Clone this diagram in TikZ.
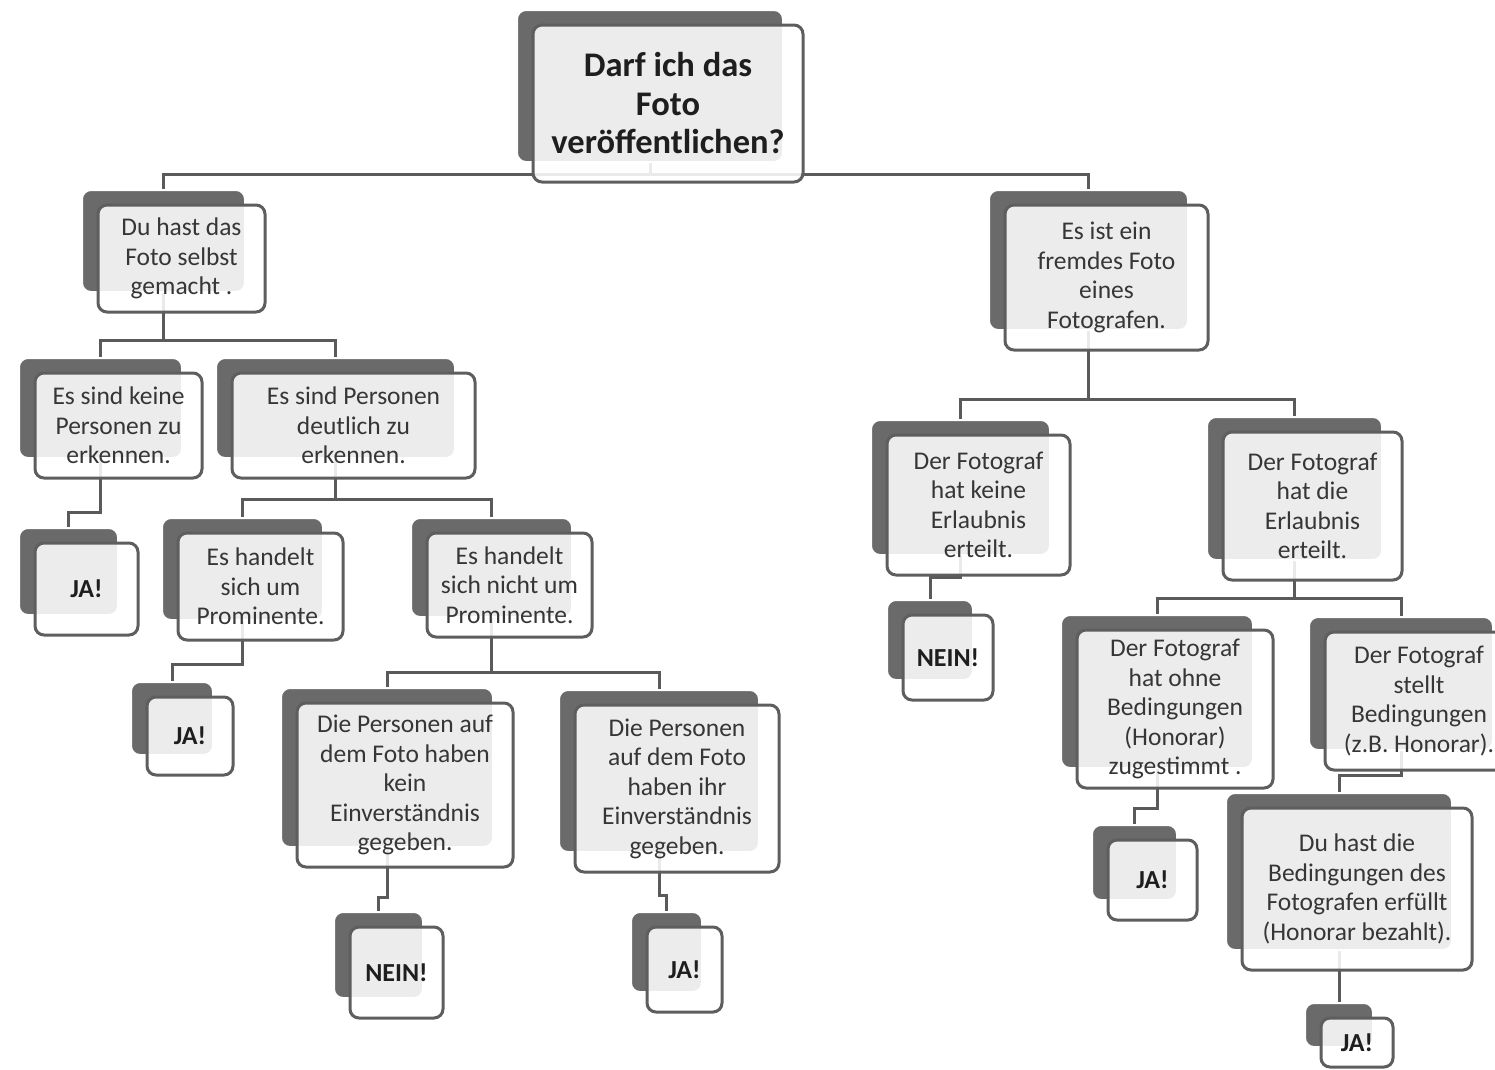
\documentclass[tikz,border=0pt]{standalone}
\usepackage{fontspec}
\setmainfont{Carlito}
\usetikzlibrary{backgrounds}
\definecolor{backgray}{HTML}{6A6A6B}
\definecolor{edgegray}{HTML}{5E5E5E}
\definecolor{linegray}{HTML}{5A5A5A}
\definecolor{txtgray}{HTML}{363636}
\definecolor{boldtxt}{HTML}{1E1E1E}
\tikzset{
  backbox/.style={rectangle, rounded corners=9pt, fill=backgray, draw=white, line width=2pt, inner sep=0pt},
  frontbox/.style={rectangle, rounded corners=9pt, fill=white, fill opacity=0.88, text opacity=1,
    draw=edgegray, draw opacity=1, line width=3pt, inner sep=0pt, align=center, text=txtgray,
    font=\fontsize{25.5}{29.5}\selectfont},
  titlebox/.style={frontbox, text=boldtxt, font=\bfseries\fontsize{34.5}{38.5}\selectfont},
  answerbox/.style={frontbox, text=boldtxt, font=\bfseries\fontsize{26}{30}\selectfont},
  conn/.style={draw=linegray, line width=3pt},
}
% #1 style of front box, #2 name, #3..#6 front rectangle x1,y1,x2,y2, #7 text
\newcommand\card[7][frontbox]{%
  \pgfmathsetmacro\cardW{#5-#3}\pgfmathsetmacro\cardH{#6-#4}%
  \pgfmathsetmacro\cardBW{#5-#3-4}\pgfmathsetmacro\cardBH{#6-#4-5}%
  \pgfmathsetmacro\cardX{(#3+#5)/2}\pgfmathsetmacro\cardY{(#4+#6)/2}%
  \node[backbox, minimum width=\cardBW pt, minimum height=\cardBH pt] (#2) at (\cardX-18,\cardY-17.5) {};
  \node[#1, minimum width=\cardW pt, minimum height=\cardH pt] (#2-f) at (\cardX,\cardY) {#7};
}
\begin{document}
\begin{tikzpicture}[x=1pt,y=-1pt]
\useasboundingbox (0,0) rectangle (1495,1069);
\clip (0,0) rectangle (1495,1069);

\card[titlebox]{root}{533}{25}{803}{182}{Darf ich das\\Foto\\veröffentlichen?}

\card{selbst}{98}{205}{265}{312}{Du hast das\\Foto selbst\\gemacht .}
\card{keine}{35}{373}{202}{478}{Es sind keine\\Personen zu\\erkennen.}
\card{deutlich}{232}{373}{475}{478}{Es sind Personen\\deutlich zu\\erkennen.}
\card[answerbox]{ja1}{35}{543}{138}{635}{JA!}
\card{prom}{178}{533}{343}{640}{Es handelt\\sich um\\Prominente.}
\card{nprom}{427}{533}{592}{637}{Es handelt\\sich nicht um\\Prominente.}
\card[answerbox]{ja2}{147}{697}{233}{775}{JA!}
\card{kein}{297}{703}{513}{867}{Die Personen auf\\dem Foto haben\\kein\\Einverständnis\\gegeben.}
\card{ihr}{575}{705}{779}{872}{Die Personen\\auf dem Foto\\haben ihr\\Einverständnis\\gegeben.}
\card[answerbox]{nein1}{350}{927}{443}{1018}{NEIN!}
\card[answerbox]{ja3}{647}{927}{722}{1012}{JA!}

\card{fremd}{1005}{205}{1208}{350}{Es ist ein\\fremdes Foto\\eines\\Fotografen.}
\card{hkeine}{887}{435}{1070}{575}{Der Fotograf\\hat keine\\Erlaubnis\\erteilt.}
\card[answerbox]{nein2}{903}{615}{993}{700}{NEIN!}
\card{hdie}{1223}{432}{1402}{580}{Der Fotograf\\hat die\\Erlaubnis\\erteilt.}
\card{ohne}{1077}{630}{1273}{788}{Der Fotograf\\hat ohne\\Bedingungen\\(Honorar)\\zugestimmt .}
\card{stellt}{1325}{632}{1513}{770}{Der Fotograf\\stellt\\Bedingungen\\(z.B. Honorar).}
\card[answerbox]{ja4}{1108}{840}{1197}{920}{JA!}
\card{duhast}{1242}{808}{1472}{970}{Du hast die\\Bedingungen des\\Fotografen erfüllt\\(Honorar bezahlt).}
\card[answerbox]{ja5}{1321}{1018}{1393}{1067}{JA!}

\begin{pgfonlayer}{background}
\fill[white] (0,0) rectangle (1495,1069);
\draw[conn] (root.south) -- (root.south |- 0,174) -| (selbst.north);
\draw[conn] (root.south) -- (root.south |- 0,174) -| (fremd.north);
\draw[conn] (selbst.south) -- (selbst.south |- 0,340) -| (keine.north);
\draw[conn] (selbst.south) -- (selbst.south |- 0,340) -| (deutlich.north);
\draw[conn] (keine.south) -- (keine.south |- 0,512) -| (ja1.north);
\draw[conn] (deutlich.south) -- (deutlich.south |- 0,499) -| (prom.north);
\draw[conn] (deutlich.south) -- (deutlich.south |- 0,499) -| (nprom.north);
\draw[conn] (prom.south) -- (prom.south |- 0,664) -| (ja2.north);
\draw[conn] (nprom.south) -- (nprom.south |- 0,672) -| (kein.north);
\draw[conn] (nprom.south) -- (nprom.south |- 0,672) -| (ihr.north);
\draw[conn] (kein.south) -- (kein.south |- 0,897) -| (nein1.north);
\draw[conn] (ihr.south) -- (ihr.south |- 0,895) -| (ja3.north);
\draw[conn] (fremd.south) -- (fremd.south |- 0,399) -| (hkeine.north);
\draw[conn] (fremd.south) -- (fremd.south |- 0,399) -| (hdie.north);
\draw[conn] (hkeine.south) -- (hkeine.south |- 0,577) -| (nein2.north);
\draw[conn] (hdie.south) -- (hdie.south |- 0,598) -| (ohne.north);
\draw[conn] (hdie.south) -- (hdie.south |- 0,598) -| (stellt.north);
\draw[conn] (ohne.south) -- (ohne.south |- 0,808) -| (ja4.north);
\draw[conn] (stellt.south) -- (stellt.south |- 0,775) -| (duhast.north);
\draw[conn] (duhast.south) -- (duhast.south |- 0,990) -| (ja5.north);
\end{pgfonlayer}
\end{tikzpicture}
\end{document}
